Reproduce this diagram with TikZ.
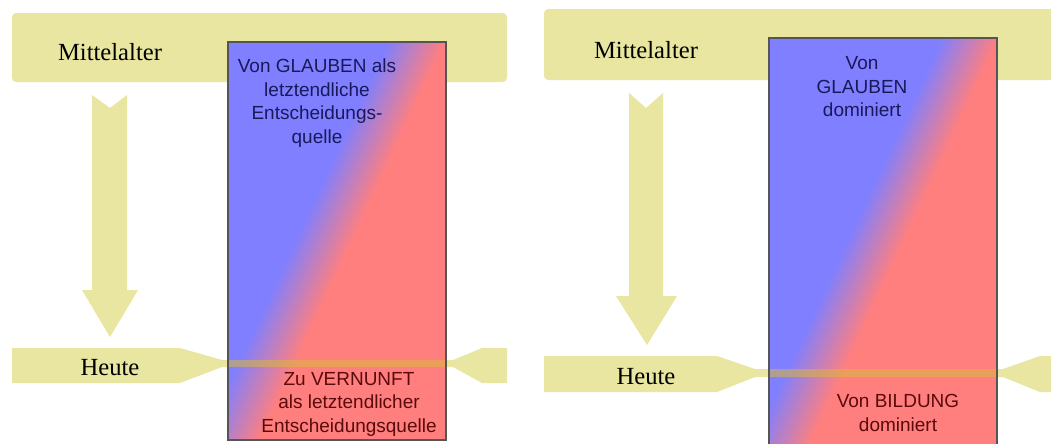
\documentclass[tikz,border=0pt]{standalone}
\usepackage{fontspec}
\setmainfont{Liberation Serif}
\newfontfamily\boxfont{Liberation Sans}
\definecolor{band}{RGB}{232,230,160}
\definecolor{myblue}{RGB}{127,127,255}
\definecolor{myred}{RGB}{255,127,127}
\definecolor{overlay}{RGB}{215,185,60}
\definecolor{navytext}{RGB}{25,25,90}
\definecolor{maroontext}{RGB}{90,10,10}
\definecolor{boxline}{RGB}{85,85,85}
\pgfdeclarehorizontalshading{bluered}{100bp}{color(0bp)=(myblue); color(47.8bp)=(myblue); color(52.2bp)=(myred); color(100bp)=(myred)}
\tikzset{
  bandfill/.style={fill=band, draw=none},
  label/.style={font=\fontsize{17.5}{20}\selectfont, inner sep=0pt},
  boxtext/.style={font=\boxfont\fontsize{13.5}{16.7}\selectfont, align=center, inner sep=0pt},
  boxframe/.style={draw=boxline, line width=0.85pt},
  thinband/.style={fill=overlay, opacity=0.55, draw=none},
}
\begin{document}
\begin{tikzpicture}[x=0.025cm, y=-0.025cm]
\useasboundingbox (0,0) rectangle (1051,443);
\fill[white] (0,0) rectangle (1051,443);

% ---------- LEFT PANEL ----------
\fill[bandfill, rounded corners=3] (12,13) rectangle (507,82);
\fill[bandfill] (92,95) -- (110,108) -- (127,95) -- (127,290) -- (138,290) -- (110,337) -- (82,290) -- (92,290) -- cycle;
\fill[bandfill] (12,348) -- (180,348) -- (222,360) -- (453,360) -- (482,348) -- (507,348) -- (507,383) -- (482,383) -- (453,367) -- (222,367) -- (180,383) -- (12,383) -- cycle;
\begin{scope}
  \clip (228,42) rectangle (446,440);
  \shade[shading=bluered, shading angle=-25] (23,-59) rectangle (623,541);
\end{scope}
\fill[thinband] (228,360) rectangle (446,367);
\draw[boxframe] (228,42) rectangle (446,440);
\node[label] (mittelL) at (110,52) {Mittelalter};
\node[label] (heuteL) at (110,368) {Heute};
\node[boxtext, text=navytext] (glaubenL) at (317,103) {Von GLAUBEN als\\letztendliche\\Entscheidungs-\\quelle};
\node[boxtext, text=maroontext] (vernunftL) at (349,404) {Zu VERNUNFT\\als letztendlicher\\Entscheidungsquelle};

% ---------- RIGHT PANEL ----------
\fill[bandfill, rounded corners=3] (544,9) rectangle (1070,80);
\fill[bandfill] (629,93) -- (646,108) -- (663,93) -- (663,296) -- (677,296) -- (647,345) -- (616,296) -- (629,296) -- cycle;
\fill[bandfill] (544,356) -- (717,356) -- (755,369) -- (1003,369) -- (1040,356) -- (1070,356) -- (1070,392) -- (1040,392) -- (1003,377) -- (755,377) -- (717,392) -- (544,392) -- cycle;
\begin{scope}
  \clip (769,38) rectangle (997,470);
  \shade[shading=bluered, shading angle=-25] (575,-59) rectangle (1175,541);
\end{scope}
\fill[thinband] (769,369) rectangle (997,377);
\draw[boxframe] (769,470) -- (769,38) -- (997,38) -- (997,470);
\node[label] (mittelR) at (646,50) {Mittelalter};
\node[label] (heuteR) at (646,377) {Heute};
\node[boxtext, text=navytext] (glaubenR) at (862,87) {Von\\GLAUBEN\\dominiert};
\node[boxtext, text=maroontext] (bildungR) at (898,413) {Von BILDUNG\\dominiert};
\end{tikzpicture}
\end{document}
